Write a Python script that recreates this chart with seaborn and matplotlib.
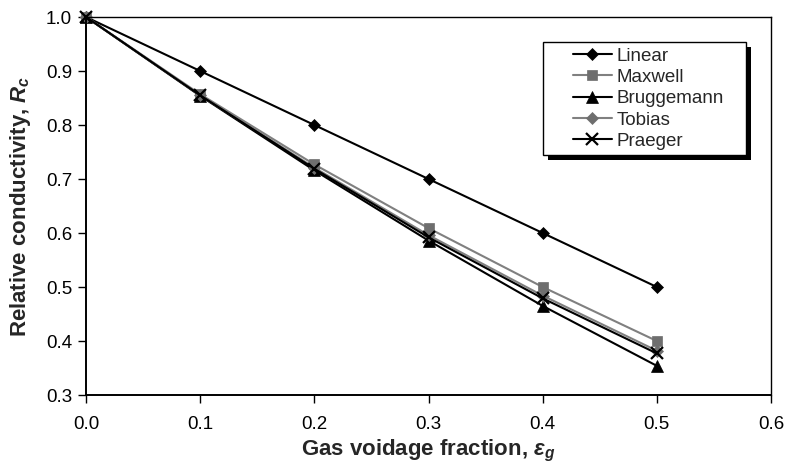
import numpy as np
import pandas as pd
import matplotlib
matplotlib.use("Agg")
import matplotlib.pyplot as plt
from matplotlib.patches import Rectangle
import seaborn as sns

eg = [0.0, 0.1, 0.2, 0.3, 0.4, 0.5]
linear = [1.0, 0.9, 0.8, 0.7, 0.6, 0.5]
maxwell = [1.0, 0.857, 0.727, 0.609, 0.5, 0.4]
bruggemann = [1.0, 0.854, 0.716, 0.586, 0.465, 0.354]
tobias = [1.0, 0.855, 0.721, 0.596, 0.484, 0.382]
praeger = [1.0, 0.855, 0.719, 0.592, 0.479, 0.377]
series_names = ["Linear", "Maxwell", "Bruggemann", "Tobias", "Praeger"]
xticks = [0.0, 0.1, 0.2, 0.3, 0.4, 0.5, 0.6]
yticks = [0.3, 0.4, 0.5, 0.6, 0.7, 0.8, 0.9, 1.0]

sns.set_style("ticks")
plt.rcParams['font.family'] = ['Liberation Sans', 'DejaVu Sans']
plt.rcParams['mathtext.fontset'] = 'custom'
plt.rcParams['mathtext.it'] = 'Liberation Sans:italic:bold'
plt.rcParams['mathtext.rm'] = 'Liberation Sans:bold'

df = pd.DataFrame({
    "eg": eg * 5,
    "Rc": linear + maxwell + bruggemann + tobias + praeger,
    "model": sum([[n] * len(eg) for n in series_names], []),
})

W, H = 786, 466
fig = plt.figure(figsize=(W / 100, H / 100), dpi=100)
ax_l, ax_r, ax_b, ax_t = 86, 771, 395, 17
ax = fig.add_axes([ax_l / W, 1 - ax_b / H, (ax_r - ax_l) / W, (ax_b - ax_t) / H])

colors = {"Linear": "black", "Maxwell": "#808080", "Bruggemann": "black",
          "Tobias": "#808080", "Praeger": "black"}
markers = {"Linear": "D", "Maxwell": "s", "Bruggemann": "^", "Tobias": "D", "Praeger": "x"}
mcolors = {"Linear": "black", "Maxwell": "#6e6e6e", "Bruggemann": "black",
           "Tobias": "#6e6e6e", "Praeger": "black"}
msizes = {"Linear": 6.5, "Maxwell": 7.5, "Bruggemann": 8, "Tobias": 6.5, "Praeger": 8}

for name in series_names:
    sub = df[df["model"] == name]
    mk = markers[name]
    sns.lineplot(data=sub, x="eg", y="Rc", ax=ax, color=colors[name], lw=1.5,
                 marker=mk, markersize=msizes[name], markerfacecolor=mcolors[name],
                 markeredgecolor=mcolors[name], markeredgewidth=1.6 if mk == "x" else 0.5,
                 label=name, legend=False, clip_on=False)

ax.set_xlim(0, 0.6)
ax.set_ylim(0.3, 1.0)
ax.set_xticks(xticks)
ax.set_yticks(yticks)
ax.set_xticklabels([f"{v:.1f}" for v in xticks])
ax.set_yticklabels([f"{v:.1f}" for v in yticks])
ax.tick_params(direction="out", length=6, width=1, labelsize=13.5, colors="black")
ax.tick_params(axis="y", pad=4)
ax.tick_params(axis="x", pad=9)
for s in ["top", "right"]:
    ax.spines[s].set_visible(True)
    ax.spines[s].set_linewidth(1.0)
    ax.spines[s].set_color("black")
for s in ["left", "bottom"]:
    ax.spines[s].set_linewidth(1.4)
    ax.spines[s].set_color("black")

ax.set_xlabel(r"Gas voidage fraction, $\varepsilon_g$", fontsize=16, fontweight="bold", labelpad=4)
ax.set_ylabel(r"Relative conductivity, $R_c$", fontsize=16, fontweight="bold", labelpad=9)

# legend content; frame drawn manually for Excel-like padding and shadow
box_left_px, box_top_px = 543, 42
pad_l, pad_r = 24, 16
leg = ax.legend(loc="upper left",
                bbox_to_anchor=((box_left_px + pad_l - ax_l) / (ax_r - ax_l),
                                (ax_b - box_top_px) / (ax_b - ax_t)),
                fontsize=13.5, frameon=False, handlelength=2.1, handletextpad=0.25,
                borderpad=0.3, labelspacing=0.22, borderaxespad=0)
leg.set_zorder(6)
fig.canvas.draw()
bb = leg.get_window_extent()
x0 = bb.x0 - pad_l
x1 = bb.x1 + pad_r
y0, y1 = bb.y0, bb.y1
inv = ax.transAxes.inverted()
(ax0, ay0) = inv.transform((x0, y0))
(ax1, ay1) = inv.transform((x1, y1))
(sx0, sy0) = inv.transform((x0 + 5, y0 - 5))
shadow = Rectangle((sx0, sy0), ax1 - ax0, ay1 - ay0, transform=ax.transAxes,
                   facecolor="black", edgecolor="black", lw=0, zorder=4, clip_on=False)
frame = Rectangle((ax0, ay0), ax1 - ax0, ay1 - ay0, transform=ax.transAxes,
                  facecolor="white", edgecolor="black", lw=1.0, zorder=4.5, clip_on=False)
ax.add_artist(shadow)
ax.add_artist(frame)

fig.savefig("out.png", dpi=100)
